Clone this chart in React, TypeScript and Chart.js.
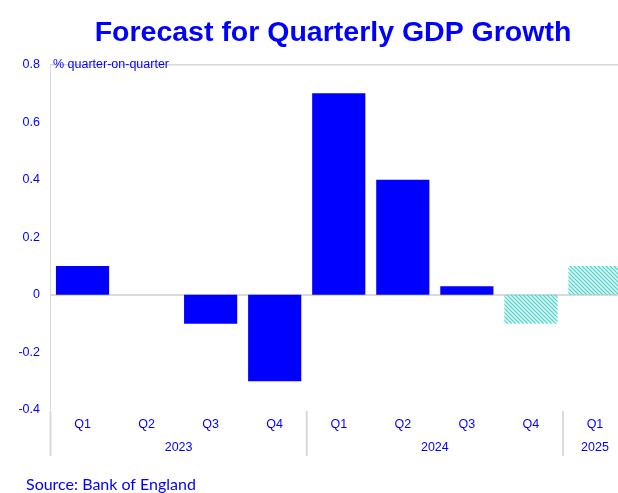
import React, { useEffect, useRef } from "react";
import { Chart, registerables } from "chart.js";

Chart.register(...registerables);

const TITLE = "Forecast for Quarterly GDP Growth";
const Y_UNIT = "% quarter-on-quarter";
const SOURCE = "Source: Bank of England";

const quarterLabels = ["Q1", "Q2", "Q3", "Q4", "Q1", "Q2", "Q3", "Q4", "Q1"];
const yearLabels = ["2023", "2024", "2025"];
const yearQuarterCounts = [4, 4, 1];
const actualGrowth = [0.1, 0, -0.1, -0.3, 0.7, 0.4, 0.03, null, null];
const forecastGrowth = [null, null, null, null, null, null, null, -0.1, 0.1];
const yMin = -0.4;
const yMax = 0.8;
const yStep = 0.2;

const BLUE = "#0000ff";
const HATCH = "#40e0d0";
const GRID = "#d9d9d9";
const FONT = "'Liberation Sans', Arial, Helvetica, sans-serif";

function makeHatch(): CanvasPattern | string {
  const c = document.createElement("canvas");
  const s = 4;
  c.width = s;
  c.height = s;
  const ctx = c.getContext("2d");
  if (!ctx) return HATCH;
  ctx.strokeStyle = HATCH;
  ctx.lineWidth = 1.4;
  ctx.beginPath();
  ctx.moveTo(-1, -1);
  ctx.lineTo(s + 1, s + 1);
  ctx.moveTo(-1, s - 1);
  ctx.lineTo(1, s + 1);
  ctx.moveTo(s - 1, -1);
  ctx.lineTo(s + 1, 1);
  ctx.stroke();
  return ctx.createPattern(c, "repeat") || HATCH;
}

const decorPlugin = {
  id: "decor",
  afterDraw(chart: any) {
    const { ctx, chartArea, scales } = chart;
    const x = scales.x;
    const n = quarterLabels.length;
    const slot = (x.right - x.left) / n;
    ctx.save();
    ctx.fillStyle = BLUE;

    // title
    ctx.font = `bold 28.5px ${FONT}`;
    ctx.textAlign = "center";
    ctx.textBaseline = "alphabetic";
    ctx.fillText(TITLE, 333, 41);

    // unit label
    ctx.font = `12.5px ${FONT}`;
    ctx.textAlign = "left";
    ctx.textBaseline = "middle";
    ctx.fillText(Y_UNIT, chartArea.left + 2.5, chartArea.top);

    // year groups and dividers
    let start = 0;
    ctx.textAlign = "center";
    for (let i = 0; i < yearLabels.length; i++) {
      const cnt = yearQuarterCounts[i];
      const left = x.getPixelForValue(start) - slot / 2;
      const right = x.getPixelForValue(start + cnt - 1) + slot / 2;
      ctx.strokeStyle = GRID;
      ctx.lineWidth = 2;
      ctx.beginPath();
      ctx.moveTo(left, chartArea.bottom + 1);
      ctx.lineTo(left, chartArea.bottom + 46);
      ctx.stroke();
      ctx.fillStyle = BLUE;
      ctx.fillText(yearLabels[i], (left + right) / 2, chartArea.bottom + 38);
      start += cnt;
    }

    // source
    ctx.font = `16px Lato, 'Open Sans', sans-serif`;
    ctx.textAlign = "left";
    ctx.textBaseline = "alphabetic";
    ctx.fillText(SOURCE, 26, 490);
    ctx.restore();
  },
};

export default function App() {
  const ref = useRef<HTMLCanvasElement | null>(null);

  useEffect(() => {
    if (!ref.current) return;
    const hatch = makeHatch();
    const chart = new Chart(ref.current, {
      type: "bar",
      data: {
        labels: quarterLabels,
        datasets: [
          {
            label: "Outturn",
            data: actualGrowth,
            backgroundColor: BLUE,
            borderWidth: 0,
            grouped: false,
            barPercentage: 0.83,
            categoryPercentage: 1,
          } as any,
          {
            label: "Forecast",
            data: forecastGrowth,
            backgroundColor: hatch as any,
            borderWidth: 0,
            grouped: false,
            barPercentage: 0.83,
            categoryPercentage: 1,
          } as any,
        ],
      },
      options: {
        animation: false,
        responsive: false,
        devicePixelRatio: 1,
        layout: { padding: { top: 64.5, left: 0, right: 0, bottom: 0 } },
        plugins: {
          legend: { display: false },
          title: { display: false },
          tooltip: { enabled: false },
        },
        scales: {
          x: {
            grid: { display: false, drawTicks: false },
            border: { display: false },
            ticks: {
              color: BLUE,
              font: { family: FONT, size: 12.5 },
              padding: 7.5,
              maxRotation: 0,
              autoSkip: false,
            },
            afterFit: (s: any) => {
              s.height = 493 - 410;
            },
          },
          y: {
            min: yMin,
            max: yMax,
            grid: {
              drawTicks: false,
              color: (c: any) =>
                c.tick && (Math.abs(c.tick.value) < 1e-9 || Math.abs(c.tick.value - yMax) < 1e-9)
                  ? GRID
                  : "rgba(0,0,0,0)",
              lineWidth: (c: any) => (c.tick && Math.abs(c.tick.value) < 1e-9 ? 2 : 1.5),
            },
            border: { display: true, color: GRID, width: 1 },
            ticks: {
              stepSize: yStep,
              color: BLUE,
              font: { family: FONT, size: 12.5 },
              padding: 10.5,
              callback: (v: any) => String(Number(Number(v).toFixed(1))),
            },
            afterFit: (s: any) => {
              s.width = 50.5;
            },
          },
        },
      },
      plugins: [decorPlugin],
    });
    return () => chart.destroy();
  }, []);

  return (
    <div
      style={{
        position: "absolute",
        left: 0,
        top: 0,
        width: 618,
        height: 493,
        overflow: "hidden",
        background: "#fff",
      }}
    >
      <canvas ref={ref} width={627} height={493} style={{ width: 627, height: 493, display: "block" }} />
    </div>
  );
}
